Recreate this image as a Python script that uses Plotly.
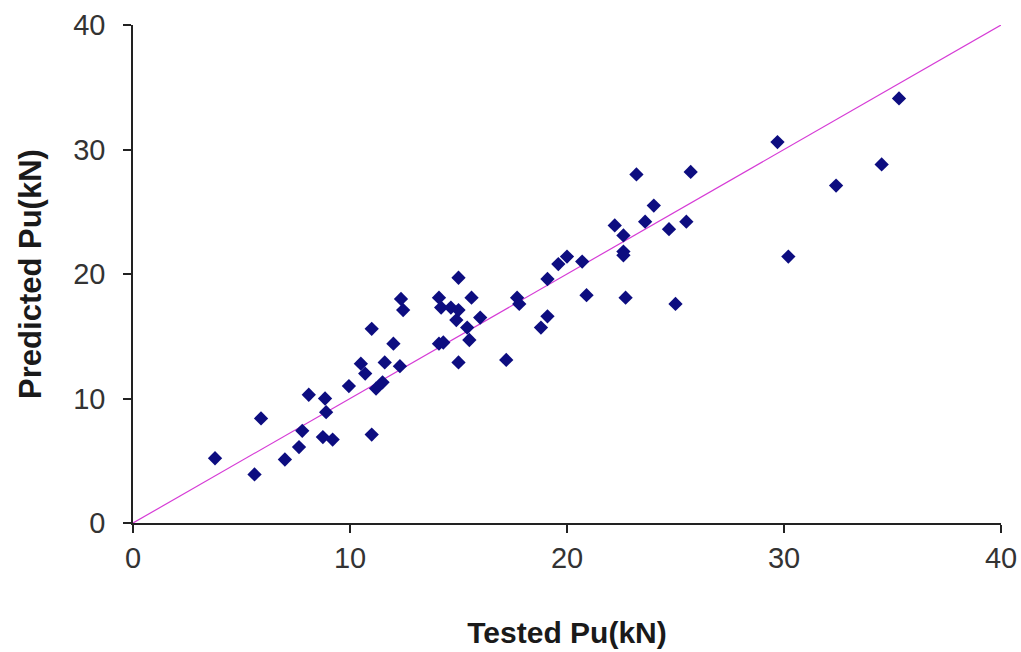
import plotly.graph_objects as go

tested = [3.78, 5.6, 5.9, 7.0, 7.65, 7.8, 8.1, 8.75, 8.85, 8.9, 9.2, 9.95, 10.5, 10.7, 11.0, 11.0,
          11.2, 11.5, 11.6, 12.0, 12.3, 12.35, 12.45, 14.1, 14.2, 14.1, 14.3, 14.65, 14.9, 15.0,
          15.0, 15.0, 15.4, 15.6, 15.5, 16.0, 17.2, 17.7, 17.8, 18.8, 19.1, 19.1, 19.6, 20.0,
          20.7, 20.9, 22.2, 22.6, 22.6, 22.6, 22.7, 23.2, 23.6, 24.0, 24.7, 25.0, 25.5, 25.7,
          29.7, 30.2, 32.4, 34.5, 35.3]
predicted = [5.2, 3.9, 8.4, 5.1, 6.1, 7.4, 10.3, 6.9, 10.0, 8.9, 6.7, 11.0, 12.8, 12.0, 15.6, 7.1,
             10.8, 11.3, 12.9, 14.4, 12.6, 18.0, 17.1, 18.1, 17.3, 14.4, 14.5, 17.3, 16.3, 12.9,
             19.7, 17.1, 15.7, 18.1, 14.7, 16.5, 13.1, 18.1, 17.6, 15.7, 16.6, 19.6, 20.8, 21.4,
             21.0, 18.3, 23.9, 23.1, 21.8, 21.5, 18.1, 28.0, 24.2, 25.5, 23.6, 17.6, 24.2, 28.2,
             30.6, 21.4, 27.1, 28.8, 34.1]
line_x = [0, 40]
line_y = [0, 40]

FONT = "Liberation Sans, Arial, sans-serif"

fig = go.Figure()
fig.add_trace(go.Scatter(x=line_x, y=line_y, mode="lines",
                         line=dict(color="#d63cd6", width=1.2), showlegend=False))
fig.add_trace(go.Scatter(x=tested, y=predicted, mode="markers",
                         marker=dict(symbol="diamond", size=11, color="#0d0d80",
                                     line=dict(width=0)),
                         showlegend=False))

axis_common = dict(
    range=[0, 40], dtick=10, showgrid=False, zeroline=False,
    showline=True, linecolor="#222", linewidth=1.5,
    ticks="outside", ticklen=8, tickcolor="#222", tickwidth=1.5,
    tickfont=dict(family=FONT, size=29, color="#333"),
    automargin=False,
)

fig.update_layout(
    width=1021, height=652,
    margin=dict(l=133, r=20, t=25, b=129),
    paper_bgcolor="white", plot_bgcolor="white",
    xaxis=dict(**axis_common, ticklabelstandoff=0,
               title=dict(text="<b>Tested Pu(kN)</b>", standoff=49,
                          font=dict(family=FONT, size=30, color="#1a1a1a"))),
    yaxis=dict(**axis_common, ticklabelstandoff=12,
               title=dict(text="<b>Predicted Pu(kN)</b>", standoff=22,
                          font=dict(family=FONT, size=31, color="#1a1a1a"))),
)

fig.write_html("out.html",
               config={"displayModeBar": False},
               post_script="document.body.style.margin='0';document.body.style.overflow='hidden';")
